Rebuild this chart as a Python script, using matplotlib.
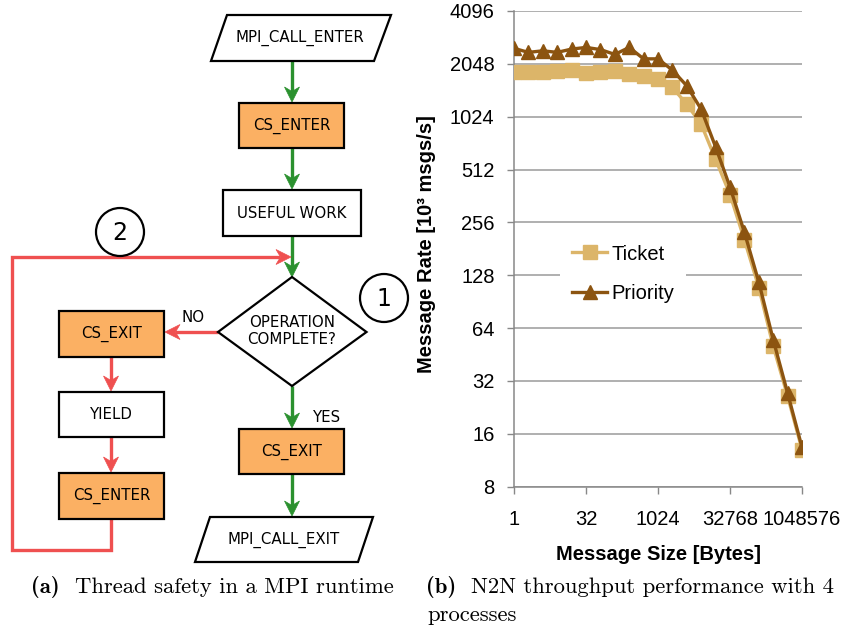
import matplotlib
matplotlib.use("Agg")
import matplotlib.pyplot as plt
from matplotlib.patches import Rectangle, Polygon, Circle
from matplotlib.ticker import FixedLocator, NullLocator

# message sizes in bytes (powers of two, 1 B .. 1 MiB)
message_sizes = [1, 2, 4, 8, 16, 32, 64, 128, 256, 512, 1024, 2048, 4096,
                 8192, 16384, 32768, 65536, 131072, 262144, 524288, 1048576]
# message rate, 10^3 msgs/s
ticket = [1844, 1830, 1844, 1860, 1880, 1820, 1840, 1855, 1790, 1750, 1670,
          1503, 1205, 927, 585, 369, 204, 109, 50.5, 26.2, 13.0]
priority = [2510, 2381, 2430, 2381, 2486, 2541, 2470, 2318, 2541, 2187, 2187,
            1886, 1535, 1128, 689, 407, 225, 117, 55, 27.3, 13.4]
series_names = ["Ticket", "Priority"]
x_ticks = [1, 32, 1024, 32768, 1048576]
y_ticks = [8, 16, 32, 64, 128, 256, 512, 1024, 2048, 4096]

GREEN = "#2b912f"
RED = "#ef5050"
ORANGE = "#fbb063"
TICKET_C = "#dcb569"
PRIO_C = "#8c5410"

fig = plt.figure(figsize=(8.45, 6.26), dpi=100)

# ---- left: flowchart, drawn in pixel units ----
bg = fig.add_axes([0, 0, 1, 1])
bg.set_xlim(0, 845)
bg.set_ylim(626, 0)
bg.axis("off")

FS = 10.8


def box(x0, y0, x1, y1, text, fill="white"):
    bg.add_patch(Rectangle((x0, y0), x1 - x0, y1 - y0, facecolor=fill,
                           edgecolor="black", lw=1.6, zorder=3))
    bg.text((x0 + x1) / 2, (y0 + y1) / 2, text, ha="center", va="center",
            fontsize=FS, zorder=4)


def para(xl_top, xr_top, xl_bot, xr_bot, y_top, y_bot, text, cx):
    bg.add_patch(Polygon([(xl_top, y_top), (xr_top, y_top), (xr_bot, y_bot),
                          (xl_bot, y_bot)], closed=True, facecolor="white",
                         edgecolor="black", lw=1.6, zorder=3))
    bg.text(cx, (y_top + y_bot) / 2, text, ha="center", va="center",
            fontsize=FS, zorder=4)


def arrow(pts, color, L=15, W=7.5, notch=4.5):
    (x0, y0), (x1, y1) = pts[-2], pts[-1]
    d = ((x1 - x0) ** 2 + (y1 - y0) ** 2) ** 0.5
    ux, uy = (x1 - x0) / d, (y1 - y0) / d
    nx, ny = -uy, ux
    bx, by = x1 - L * ux, y1 - L * uy
    kx, ky = x1 - (L - notch) * ux, y1 - (L - notch) * uy
    xs = [p[0] for p in pts[:-1]] + [kx]
    ys = [p[1] for p in pts[:-1]] + [ky]
    bg.plot(xs, ys, color=color, lw=2.4, solid_joinstyle="miter",
            solid_capstyle="butt", zorder=2)
    bg.add_patch(Polygon([(x1, y1), (bx + W * nx, by + W * ny), (kx, ky),
                          (bx - W * nx, by - W * ny)], closed=True,
                         facecolor=color, edgecolor=color, lw=0.5, zorder=2))


cx = 292
para(227, 391, 211, 374, 15, 61, "MPI_CALL_ENTER", 300)
box(239, 103, 344, 148, "CS_ENTER", ORANGE)
box(223, 190, 361, 236, "USEFUL WORK")
bg.add_patch(Polygon([(cx, 277), (366.5, 332), (cx, 386), (218, 332)],
                     closed=True, facecolor="white", edgecolor="black",
                     lw=1.6, zorder=3))
bg.text(cx, 331, "OPERATION\nCOMPLETE?", ha="center", va="center",
        fontsize=FS, linespacing=1.15, zorder=4)
box(59, 311, 164, 357, "CS_EXIT", ORANGE)
box(59, 392, 164, 437, "YIELD")
box(59, 473, 164, 519, "CS_ENTER", ORANGE)
box(239, 429, 344, 474, "CS_EXIT", ORANGE)
para(210, 373, 195, 358, 517, 562, "MPI_CALL_EXIT", 284)

arrow([(cx, 61), (cx, 102)], GREEN)
arrow([(cx, 148), (cx, 189)], GREEN)
arrow([(cx, 236), (cx, 277)], GREEN)
arrow([(cx, 386), (cx, 428)], GREEN)
arrow([(cx, 474), (cx, 516)], GREEN)
arrow([(218, 332), (165, 332)], RED)
arrow([(111, 357), (111, 391)], RED)
arrow([(111, 437), (111, 472)], RED)
arrow([(111, 519), (111, 550), (12, 550), (12, 257), (291, 257)], RED)

bg.text(193, 318, "NO", ha="center", va="center", fontsize=FS)
bg.text(327, 417, "YES", ha="center", va="center", fontsize=FS)

for (ccx, ccy, lab) in [(120, 232, "2"), (384, 298, "1")]:
    bg.add_patch(Circle((ccx, ccy), 24, facecolor="white", edgecolor="black",
                        lw=1.6, zorder=3))
    bg.text(ccx, ccy + 1, lab, ha="center", va="center", fontsize=17,
            zorder=4)

# captions
CAP = 16.3
bg.text(31, 593, "(a)", fontfamily="cmb10", fontsize=CAP, va="baseline")
bg.text(75, 593, "Thread safety in a MPI runtime", fontfamily="cmr10",
        fontsize=CAP, va="baseline")
bg.text(426, 593, "(b)", fontfamily="cmb10", fontsize=CAP, va="baseline")
bg.text(471, 593, "N2N throughput performance with 4", fontfamily="cmr10",
        fontsize=CAP, va="baseline")
bg.text(427, 621, "processes", fontfamily="cmr10", fontsize=CAP,
        va="baseline")

# ---- right: throughput chart ----
ax = fig.add_axes([514 / 845, (626 - 486.7) / 626, 288 / 845, 475.7 / 626])
ax.set_xscale("log", base=2)
ax.set_yscale("log", base=2)
ax.plot(message_sizes, ticket, color=TICKET_C, lw=2.4, marker="s", ms=9.5,
        label=series_names[0], zorder=3)
ax.plot(message_sizes, priority, color=PRIO_C, lw=2.4, marker="^", ms=10.5,
        label=series_names[1], zorder=4)
ax.set_xlim(1, 1048576)
ax.set_ylim(8, 4096)

ax.xaxis.set_major_locator(FixedLocator(x_ticks))
ax.xaxis.set_minor_locator(NullLocator())
ax.set_xticklabels([str(v) for v in x_ticks])
ax.yaxis.set_major_locator(FixedLocator(y_ticks))
ax.yaxis.set_minor_locator(NullLocator())
ax.set_yticklabels([str(v) for v in y_ticks])

for lab in ax.get_xticklabels() + ax.get_yticklabels():
    lab.set_fontfamily("Liberation Sans")
    lab.set_fontsize(14.5)
ax.tick_params(axis="y", length=5, width=1, color="#888888", pad=9)
ax.tick_params(axis="x", length=5, width=1, color="#888888", pad=12)
ax.grid(axis="y", color="#9a9a9a", lw=1.1)
ax.set_axisbelow(True)
for s in ["top", "right"]:
    ax.spines[s].set_visible(False)
for s in ["left", "bottom"]:
    ax.spines[s].set_color("#888888")
    ax.spines[s].set_linewidth(1.1)

ax.set_ylabel("Message Rate [10³ msgs/s]", fontfamily="Liberation Sans",
              fontweight="bold", fontsize=14.5)
ax.set_xlabel("Message Size [Bytes]", fontfamily="Liberation Sans",
              fontweight="bold", fontsize=14.5)
ax.yaxis.set_label_coords(-0.271, 0.51)
ax.xaxis.set_label_coords(0.5, -0.122)

leg = ax.legend(loc="center left", bbox_to_anchor=(0.125, 0.448),
                frameon=True, facecolor="white", edgecolor="none",
                framealpha=1, fancybox=False, handlelength=1.75,
                handletextpad=0.2, labelspacing=1.0, borderpad=0.6,
                prop={"family": "Liberation Sans", "size": 14.5})

fig.savefig("out.png", dpi=100)
